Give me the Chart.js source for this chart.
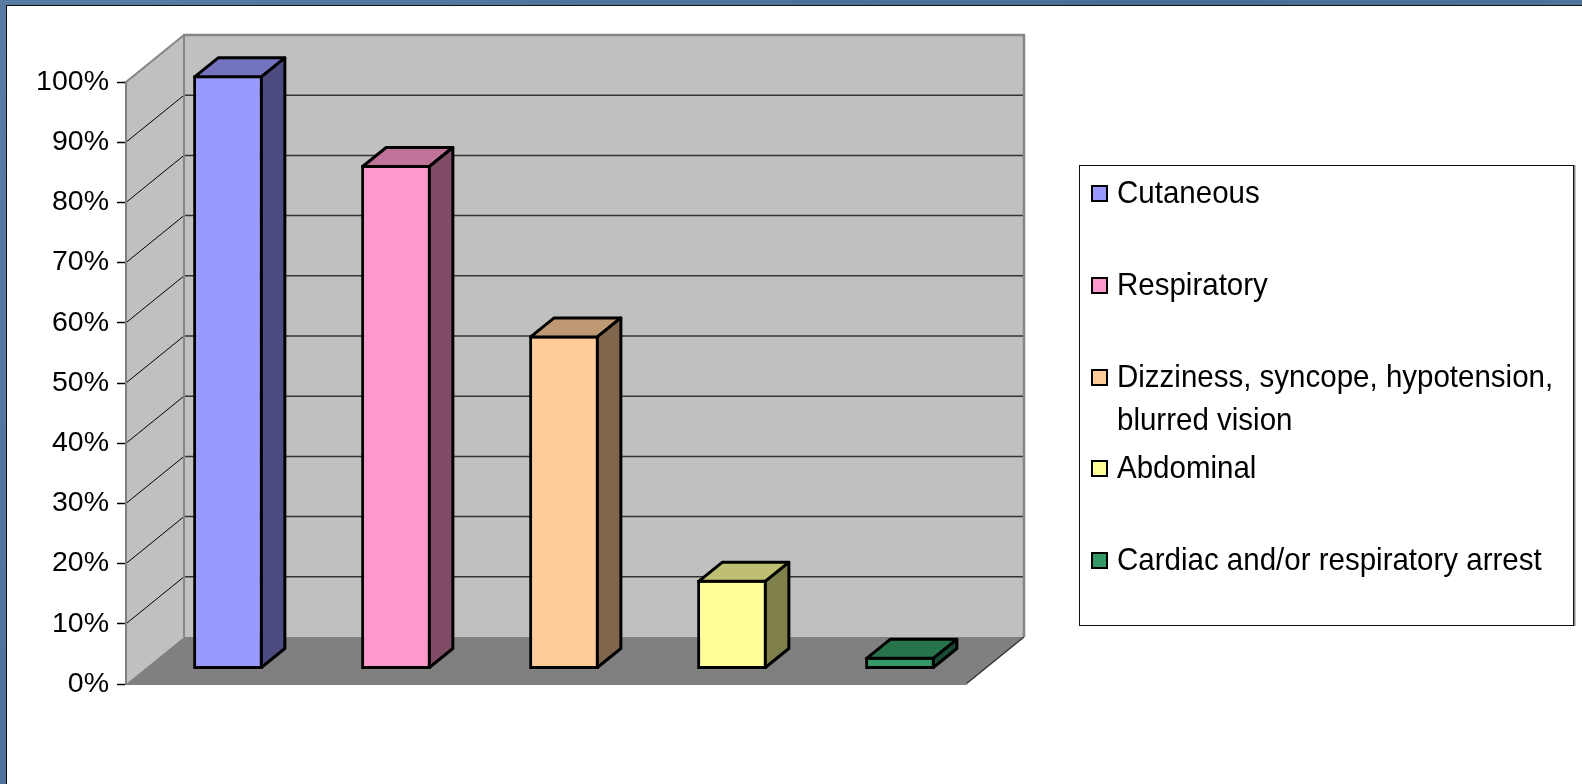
<!DOCTYPE html>
<html>
<head>
<meta charset="utf-8">
<title>Reaction symptoms</title>
<script src="https://cdn.jsdelivr.net/npm/chart.js@4.4.1/dist/chart.umd.min.js"></script>
<style>
    html, body { margin: 0; padding: 0; }
    body {
        width: 1582px; height: 784px; overflow: hidden; position: relative;
        background: linear-gradient(135deg, #5a7ba3 0%, #4b6c95 50%, #5b7ca4 100%);
        font-family: "Liberation Sans", Arial, sans-serif;
    }
    #panel {
        position: absolute; left: 6px; top: 5px; right: 0; bottom: 0;
        background: #fff; border-left: 1.5px solid #111; border-top: 1.5px solid #111;
    }
    #chart { position: absolute; left: 0; top: 0; }
    #legend {
        position: absolute; left: 1079px; top: 165px; width: 493px; height: 459px;
        border: 1.5px solid #111; box-shadow: 1.5px 0 0 #888;
        display: flex; flex-direction: column; background: #fff;
    }
    .item {
        flex: 1; display: flex; align-items: flex-start; padding-top: 6px;
        font-size: 29.5px; line-height: 40px; color: #000;
    }
    .swatch {
        width: 13px; height: 13px; border: 2.5px solid #000;
        margin: 13px 9px 0 11px; flex: none;
    }
    .label { width: 450px; transform: scaleY(1.08); transform-origin: 0 20px; }
</style>
</head>
<body>
<div id="panel"></div>
<canvas id="chart" width="1582" height="784"></canvas>
<div id="legend"></div>
<script>
// chart data
const categories = [
    "Cutaneous",
    "Respiratory",
    "Dizziness, syncope, hypotension, blurred vision",
    "Abdominal",
    "Cardiac and/or respiratory arrest"
];
const percentValues = [98.7, 83.8, 55.5, 14.9, 2.1];
const tickValues = [0, 10, 20, 30, 40, 50, 60, 70, 80, 90, 100];

// bar colours: front face, top face, side face
const frontColors = ["#9999ff", "#ff99cc", "#ffcc99", "#ffff99", "#339966"];
const topColors = ["#7373bf", "#bf7399", "#bf9973", "#bfbf73", "#26734c"];
const sideColors = ["#4c4c80", "#804c66", "#80664c", "#80804c", "#1a4c33"];

// 3d look
const depth = { x: 58, y: -47 };        // floor / side wall depth
const barShift = { x: 18, y: -14.5 };   // where the bar fronts sit inside the box
const barDepth = { x: 23.5, y: -19 };

function poly(ctx, pts, fill, stroke, lw) {
    ctx.beginPath();
    ctx.moveTo(pts[0][0], pts[0][1]);
    for (let i = 1; i < pts.length; i++) ctx.lineTo(pts[i][0], pts[i][1]);
    ctx.closePath();
    if (fill) { ctx.fillStyle = fill; ctx.fill(); }
    if (stroke) { ctx.strokeStyle = stroke; ctx.lineWidth = lw || 1; ctx.stroke(); }
}

function line(ctx, x1, y1, x2, y2, color, lw) {
    ctx.beginPath();
    ctx.moveTo(x1, y1);
    ctx.lineTo(x2, y2);
    ctx.strokeStyle = color;
    ctx.lineWidth = lw;
    ctx.stroke();
}

// walls, floor and gridlines behind everything
const wallsPlugin = {
    id: "walls",
    beforeDraw(chart) {
        const { ctx, chartArea: a, scales: { y } } = chart;
        const dx = depth.x, dy = depth.y;
        ctx.save();
        // side wall, back wall, floor
        poly(ctx, [[a.left, a.bottom], [a.left, a.top], [a.left + dx, a.top + dy], [a.left + dx, a.bottom + dy]], "#c0c0c0");
        poly(ctx, [[a.left + dx, a.top + dy], [a.right + dx, a.top + dy], [a.right + dx, a.bottom + dy], [a.left + dx, a.bottom + dy]], "#c0c0c0");
        poly(ctx, [[a.left, a.bottom], [a.right, a.bottom], [a.right + dx, a.bottom + dy], [a.left + dx, a.bottom + dy]], "#808080");

        // gridlines on side + back wall
        y.ticks.forEach(t => {
            if (t.value === 0 || t.value === 100) return;
            const py = y.getPixelForValue(t.value);
            line(ctx, a.left, py, a.left + dx, py + dy, "#000", 1);
            line(ctx, a.left + dx, py + dy, a.right + dx, py + dy, "#333", 1.5);
        });

        // edges
        const edge = "#858585";
        line(ctx, a.left, a.top, a.left + dx, a.top + dy, edge, 2);
        line(ctx, a.left + dx - 1, a.top + dy, a.right + dx + 1, a.top + dy, edge, 2.5);
        line(ctx, a.right + dx, a.top + dy, a.right + dx, a.bottom + dy, edge, 2.5);
        line(ctx, a.left + dx, a.top + dy, a.left + dx, a.bottom + dy, edge, 2);
        line(ctx, a.right, a.bottom, a.right + dx, a.bottom + dy, "#333", 1.5);
        ctx.restore();
    }
};

// shift bars into the box and add top + side faces
const bars3dPlugin = {
    id: "bars3d",
    beforeDatasetsDraw(chart) {
        chart.ctx.save();
        chart.ctx.translate(barShift.x, barShift.y);
    },
    afterDatasetsDraw(chart) {
        const ctx = chart.ctx;
        ctx.lineJoin = "round";
        chart.getDatasetMeta(0).data.forEach((bar, i) => {
            const { x, y, base, width } = bar.getProps(["x", "y", "base", "width"], true);
            const l = x - width / 2 + 1.5, r = x + width / 2 - 1.5;
            const t = y + 1.5, b = base - 1.5;
            const ox = barDepth.x, oy = barDepth.y;
            poly(ctx, [[l, t], [l + ox, t + oy], [r + ox, t + oy], [r, t]], topColors[i], "#000", 3);
            poly(ctx, [[r, t], [r + ox, t + oy], [r + ox, b + oy], [r, b]], sideColors[i], "#000", 3);
        });
        ctx.restore();
    }
};

const ctx = document.getElementById("chart").getContext("2d");
new Chart(ctx, {
    type: "bar",
    data: {
        labels: categories,
        datasets: [{
            data: percentValues,
            backgroundColor: frontColors,
            borderColor: "#000",
            borderWidth: 3,
            borderSkipped: false,
            barPercentage: 1,
            categoryPercentage: 0.415,
            clip: false
        }]
    },
    options: {
        responsive: false,
        animation: false,
        events: [],
        layout: { padding: { left: 0, top: 82, right: 616, bottom: 100 } },
        plugins: { legend: { display: false }, tooltip: { enabled: false } },
        scales: {
            x: {
                ticks: { display: false },
                grid: { display: false },
                border: { display: true, color: "#808080", width: 2 },
                afterFit: s => { s.height = 0; }
            },
            y: {
                min: 0,
                max: 100,
                afterBuildTicks: s => { s.ticks = tickValues.map(v => ({ value: v })); },
                ticks: {
                    padding: 8,
                    color: "#000",
                    font: { family: "'Liberation Sans', Arial, sans-serif", size: 28.5 },
                    callback: v => v + "%"
                },
                grid: { drawOnChartArea: false, drawTicks: true, tickLength: 9, tickColor: "#000", tickWidth: 1.5 },
                border: { display: true, color: "#808080", width: 2 },
                afterFit: s => { s.width = 126; }
            }
        }
    },
    plugins: [wallsPlugin, bars3dPlugin]
});

// legend box
const legend = document.getElementById("legend");
categories.forEach((name, i) => {
    const item = document.createElement("div");
    item.className = "item";
    item.innerHTML = `<span class="swatch" style="background:${frontColors[i]}"></span><span class="label">${name}</span>`;
    legend.appendChild(item);
});
</script>
</body>
</html>
